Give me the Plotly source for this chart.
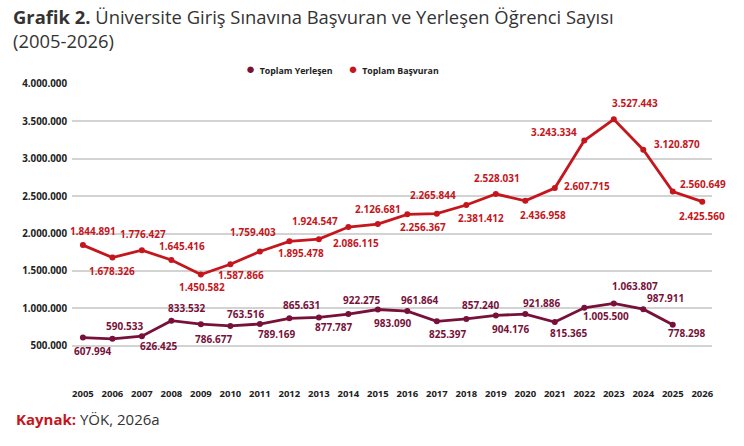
import plotly.graph_objects as go

# Data
years = list(range(2005, 2027))
basvuran = [1844891, 1678326, 1776427, 1645416, 1450582, 1587866, 1759403,
            1895478, 1924547, 2086115, 2126681, 2256367, 2265844, 2381412,
            2528031, 2436958, 2607715, 3243334, 3527443, 3120870, 2560649,
            2425560]
yerlesen = [607994, 590533, 626425, 833532, 786677, 763516, 789169,
            865631, 877787, 922275, 983090, 961864, 825397, 857240,
            904176, 921886, 815365, 1005500, 1063807, 987911, 778298]
y_ticks = [500000, 1000000, 1500000, 2000000, 2500000, 3000000, 3500000, 4000000]
series_names = ["Toplam Yerleşen", "Toplam Başvuran"]

RED = "#C4161C"
MAROON = "#77113A"
FONT = "Open Sans"

# label offsets in pixels (dx, dy up)
red_off = [(10, 14), (0, -13), (1, 16), (11, 14), (1, -12), (11, -11), (-7, 19),
           (12, -12), (-4, 18), (8, -16), (0, 15), (16, -13), (-4, 19), (15, -13),
           (1, 16), (18, -14), (32, 2), (-30, 9), (21, 16), (34, 6), (30, 8), (0, -14)]
dark_off = [(10, -13), (12, 13), (17, -10), (15, 13), (13, -15), (15, 12), (17, -10),
            (12, 13), (15, -10), (13, 14), (15, -13), (12, 11), (11, -13), (14, 14),
            (15, -14), (16, 11), (14, -11), (22, -8), (21, 17), (22, 11), (14, -8)]


def tr(v):
    return f"{v:,}".replace(",", ".")


fig = go.Figure()
fig.add_trace(go.Scatter(x=years[:len(yerlesen)], y=yerlesen, name=series_names[0],
                         mode="lines+markers", line=dict(color=MAROON, width=2.8),
                         marker=dict(size=6, color=MAROON)))
fig.add_trace(go.Scatter(x=years, y=basvuran, name=series_names[1],
                         mode="lines+markers", line=dict(color=RED, width=2.8),
                         marker=dict(size=6, color=RED)))

for x, v, (dx, dy) in zip(years, basvuran, red_off):
    fig.add_annotation(x=x, y=v, text=tr(v), showarrow=False, xshift=dx, yshift=dy,
                       font=dict(family=FONT, size=10, color=RED, weight="bold"))
for x, v, (dx, dy) in zip(years, yerlesen, dark_off):
    fig.add_annotation(x=x, y=v, text=tr(v), showarrow=False, xshift=dx, yshift=dy,
                       font=dict(family=FONT, size=10, color=MAROON, weight="bold"))

# legend drawn as annotations so it does not push the plot down
legend_text = (f"<span style='color:{MAROON};font-size:15px'>●</span>  {series_names[0]}"
               f"       <span style='color:{RED};font-size:15px'>●</span>  {series_names[1]}")
fig.add_annotation(xref="paper", yref="paper", x=0.422, y=1.053, xanchor="center",
                   yanchor="middle", showarrow=False, text=legend_text,
                   font=dict(family=FONT, size=8.8, color="#222222", weight="bold"))

fig.add_annotation(xref="paper", yref="paper", x=-0.095, y=1.275, xanchor="left", yanchor="top",
                   align="left", showarrow=False,
                   text="<b>Grafik 2.</b> Üniversite Giriş Sınavına Başvuran ve Yerleşen Öğrenci Sayısı<br>(2005-2026)",
                   font=dict(family=FONT, size=18.4, color="#333333"))
fig.add_annotation(xref="paper", yref="paper", x=-0.09, y=-0.122, xanchor="left", yanchor="middle",
                   showarrow=False,
                   text=f"<b><span style='color:{RED}'>Kaynak:</span></b> YÖK, 2026a",
                   font=dict(family=FONT, size=15, color="#333333"))

fig.update_layout(
    width=744, height=446,
    margin=dict(l=72, r=32, t=84, b=63),
    plot_bgcolor="white", paper_bgcolor="white",
    showlegend=False,
    xaxis=dict(range=[2004.63, 2026.33], tickvals=years, showgrid=False, zeroline=False,
               showline=False, ticklabelstandoff=3,
               tickfont=dict(family=FONT, size=9.5, color="#222222", weight="bold")),
    yaxis=dict(range=[0, 4000000], tickvals=y_ticks, ticktext=[tr(v) for v in y_ticks],
               showgrid=True, gridcolor="#D3D3D3", gridwidth=1.5, zeroline=False,
               ticklabelstandoff=4,
               tickfont=dict(family=FONT, size=9.8, color="#222222", weight="bold")),
)

# drop the browser's default page margin so the figure fills the window
fig.write_html("out.html", config={"displayModeBar": False},
               post_script="document.body.style.margin='0';")
